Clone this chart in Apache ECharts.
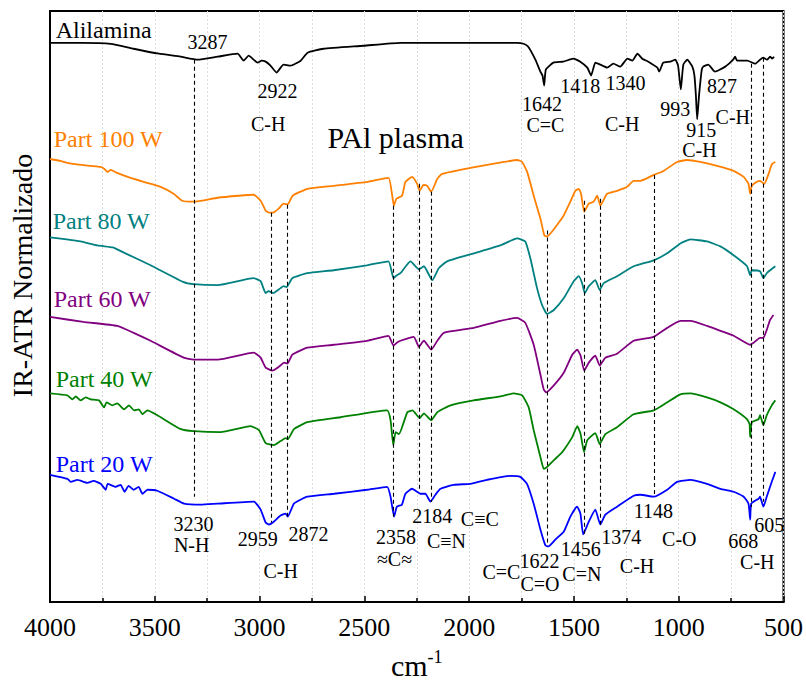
<!DOCTYPE html>
<html>
<head>
<meta charset="utf-8">
<script src="https://cdn.jsdelivr.net/npm/echarts/dist/echarts.min.js"></script>
<style>
  html, body { margin: 0; padding: 0; background: #fff; }
  #chart { width: 806px; height: 685px; }
</style>
</head>
<body>
<div id="chart"></div>
<script>
// FTIR-ATR spectra: allylamine monomer and plasma-polymerised films (stacked, offset)
// each point: [wavenumber cm-1, normalised intensity + offset]
const alilamina = [
  [4000,5.63],[3850,5.63],[3710,5.62],[3601,5.57],[3480,5.52],[3377,5.49],[3296,5.46],[3200,5.49],
  [3105,5.52],[3076,5.45],[3052,5.50],[3009,5.43],[2990,5.45],[2971,5.44],[2948,5.40],[2919,5.33],
  [2886,5.41],[2852,5.40],[2804,5.45],[2771,5.53],[2695,5.57],[2504,5.60],[2328,5.63],[2000,5.63],
  [1770,5.63],[1740,5.62],[1718,5.59],[1684,5.46],[1660,5.34],[1650,5.30],[1642,5.20],[1634,5.36],
  [1598,5.43],[1551,5.44],[1503,5.47],[1470,5.44],[1436,5.38],[1418,5.30],[1398,5.43],[1374,5.41],
  [1341,5.38],[1312,5.42],[1279,5.39],[1245,5.47],[1221,5.45],[1197,5.52],[1174,5.47],[1145,5.44],
  [1102,5.38],[1093,5.34],[1074,5.43],[1040,5.44],[1016,5.46],[1003,5.40],[990,5.16],[978,5.41],
  [959,5.46],[935,5.39],[925,5.30],[918,5.10],[912,4.86],[903,5.10],[890,5.36],[883,5.39],
  [859,5.41],[827,5.34],[778,5.39],[740,5.46],[731,5.49],[721,5.45],[673,5.45],[635,5.42],
  [612,5.46],[597,5.48],[578,5.46],[564,5.49],[554,5.47],[545,5.49]
];
const part100 = [
  [4000,4.46],[3950,4.44],[3917,4.42],[3850,4.40],[3758,4.38],[3740,4.36],[3725,4.33],[3710,4.35],
  [3680,4.32],[3629,4.28],[3553,4.23],[3472,4.18],[3410,4.11],[3369,4.04],[3315,4.03],[3200,4.07],
  [3100,4.09],[3028,4.10],[2995,4.04],[2971,3.94],[2955,3.92],[2935,3.92],[2909,3.96],[2886,4.01],
  [2867,4.00],[2842,4.09],[2771,4.16],[2647,4.19],[2485,4.23],[2385,4.27],[2367,4.09],[2359,3.99],
  [2347,4.06],[2320,4.09],[2304,4.23],[2272,4.28],[2248,4.21],[2236,4.14],[2218,4.20],[2200,4.19],
  [2181,4.13],[2152,4.26],[2129,4.31],[1994,4.37],[1834,4.43],[1771,4.45],[1747,4.43],[1723,4.33],
  [1692,4.09],[1660,3.86],[1641,3.69],[1628,3.68],[1604,3.73],[1565,3.84],[1549,3.89],[1517,4.03],
  [1493,4.14],[1477,4.16],[1466,4.11],[1451,3.93],[1429,4.01],[1406,4.03],[1389,4.09],[1374,3.99],
  [1342,4.11],[1294,4.14],[1246,4.18],[1215,4.24],[1183,4.24],[1119,4.30],[1072,4.34],[1008,4.43],
  [960,4.45],[897,4.43],[817,4.39],[738,4.34],[690,4.28],[667,4.21],[659,4.11],[651,4.19],
  [627,4.23],[612,4.24],[592,4.21],[571,4.31],[555,4.41],[539,4.43]
];
const part80 = [
  [4000,3.67],[3920,3.65],[3854,3.63],[3774,3.59],[3700,3.57],[3679,3.55],[3640,3.51],[3520,3.39],
  [3362,3.22],[3315,3.20],[3200,3.19],[3028,3.26],[2995,3.23],[2971,3.11],[2957,3.13],[2935,3.11],
  [2900,3.16],[2886,3.18],[2871,3.17],[2844,3.26],[2772,3.31],[2647,3.34],[2488,3.39],[2385,3.43],
  [2361,3.26],[2345,3.29],[2328,3.31],[2280,3.43],[2240,3.35],[2216,3.38],[2176,3.24],[2145,3.36],
  [2105,3.43],[1978,3.51],[1851,3.59],[1771,3.66],[1732,3.63],[1708,3.46],[1676,3.16],[1652,2.99],
  [1628,2.90],[1596,2.94],[1548,3.06],[1501,3.23],[1477,3.28],[1461,3.21],[1448,3.11],[1429,3.18],
  [1398,3.24],[1377,3.14],[1358,3.21],[1294,3.28],[1215,3.38],[1119,3.44],[1055,3.51],[992,3.61],
  [944,3.65],[865,3.63],[801,3.58],[738,3.49],[674,3.38],[659,3.29],[651,3.34],[612,3.33],
  [596,3.26],[580,3.31],[564,3.34],[539,3.38]
];
const part60 = [
  [4000,2.87],[3841,2.82],[3679,2.78],[3601,2.71],[3520,2.63],[3362,2.46],[3315,2.44],[3200,2.44],
  [3028,2.51],[2995,2.46],[2971,2.36],[2939,2.33],[2907,2.37],[2883,2.41],[2867,2.40],[2844,2.49],
  [2772,2.56],[2645,2.59],[2488,2.63],[2385,2.68],[2361,2.58],[2345,2.61],[2328,2.63],[2264,2.67],
  [2240,2.57],[2216,2.63],[2181,2.54],[2152,2.63],[2121,2.71],[1978,2.76],[1851,2.83],[1771,2.86],
  [1732,2.81],[1692,2.59],[1660,2.29],[1644,2.14],[1632,2.11],[1596,2.18],[1548,2.31],[1508,2.49],
  [1484,2.54],[1468,2.48],[1451,2.33],[1429,2.41],[1398,2.48],[1377,2.38],[1350,2.46],[1294,2.50],
  [1215,2.63],[1119,2.67],[1055,2.76],[992,2.83],[944,2.83],[865,2.78],[801,2.73],[738,2.68],
  [659,2.59],[643,2.61],[612,2.66],[596,2.66],[580,2.74],[564,2.84],[548,2.89]
];
const part40 = [
  [4000,2.10],[3917,2.08],[3893,2.04],[3877,2.07],[3854,2.03],[3830,2.06],[3806,2.04],[3766,2.03],
  [3742,1.96],[3730,2.01],[3702,1.98],[3679,2.00],[3647,1.94],[3623,1.98],[3599,1.93],[3576,1.94],
  [3559,1.89],[3535,1.93],[3488,1.88],[3376,1.74],[3313,1.72],[3186,1.71],[3043,1.77],[3003,1.73],
  [2971,1.60],[2932,1.58],[2900,1.62],[2876,1.65],[2865,1.64],[2836,1.74],[2772,1.81],[2614,1.86],
  [2391,1.93],[2375,1.83],[2362,1.58],[2351,1.71],[2335,1.69],[2295,1.91],[2270,1.93],[2236,1.85],
  [2216,1.90],[2181,1.83],[2152,1.91],[2089,1.98],[1978,2.03],[1851,2.07],[1787,2.10],[1747,2.08],
  [1716,1.96],[1692,1.73],[1660,1.46],[1644,1.34],[1628,1.36],[1580,1.46],[1560,1.50],[1548,1.53],
  [1508,1.66],[1484,1.77],[1468,1.69],[1452,1.51],[1436,1.63],[1398,1.70],[1377,1.59],[1350,1.69],
  [1294,1.76],[1215,1.89],[1119,1.93],[1055,2.01],[992,2.09],[944,2.10],[865,2.06],[801,2.01],
  [738,1.94],[674,1.84],[662,1.79],[659,1.66],[651,1.81],[619,1.84],[612,1.88],[596,1.78],
  [580,1.88],[556,1.98],[539,2.03]
];
const part20 = [
  [4000,1.28],[3917,1.24],[3901,1.21],[3869,1.23],[3822,1.20],[3792,1.22],[3758,1.19],[3734,1.13],
  [3725,1.19],[3687,1.16],[3663,1.18],[3644,1.11],[3625,1.17],[3601,1.13],[3577,1.16],[3559,1.09],
  [3535,1.13],[3488,1.12],[3408,1.04],[3360,0.99],[3281,0.98],[3201,0.99],[3027,1.01],[2995,0.93],
  [2971,0.80],[2955,0.78],[2931,0.81],[2900,0.87],[2876,0.89],[2865,0.86],[2836,0.99],[2772,1.06],
  [2645,1.09],[2488,1.13],[2391,1.16],[2375,1.06],[2358,0.86],[2345,0.96],[2321,0.98],[2304,1.09],
  [2272,1.14],[2248,1.11],[2233,1.09],[2209,1.09],[2185,1.01],[2161,1.08],[2137,1.14],[2074,1.18],
  [1994,1.19],[1915,1.23],[1804,1.27],[1756,1.26],[1724,1.19],[1692,0.99],[1660,0.73],[1636,0.57],
  [1622,0.56],[1588,0.63],[1548,0.71],[1517,0.86],[1485,0.96],[1469,0.89],[1456,0.68],[1429,0.81],
  [1398,0.93],[1374,0.78],[1350,0.88],[1294,0.96],[1215,1.07],[1183,1.08],[1119,1.06],[1055,1.13],
  [1008,1.21],[944,1.23],[865,1.19],[801,1.14],[738,1.11],[690,1.06],[667,0.99],[659,0.83],
  [654,0.99],[619,1.04],[612,1.06],[596,0.96],[580,1.06],[556,1.21],[539,1.31]
];

// dashed guide lines through the assigned bands: wavenumber, upper and lower end
const guideWn     = [3313, 2946, 2868, 2362, 2238, 2180, 1625, 1451, 1375, 1118, 654, 595];
const guideTop    = [5.46, 3.92, 4.00, 3.99, 4.21, 4.13, 3.74, 4.04, 4.06, 4.30, 5.42, 5.48];
const guideBottom = [1.06, 0.80, 0.86, 0.86, 1.11, 1.01, 0.60, 0.68, 0.78, 1.06, 0.96, 1.01];

// spectrum names and colours
const seriesNames  = ['Alilamina', 'Part 100 W', 'Part 80 W', 'Part 60 W', 'Part 40 W', 'Part 20 W'];
const seriesData   = [alilamina, part100, part80, part60, part40, part20];
const seriesColors = ['#000000', '#ff8000', '#008080', '#800080', '#008000', '#0000ff'];
// where each spectrum's name sits: [wavenumber, intensity]
const nameAnchors  = [[3973,5.76],[3982,4.66],[3987,3.84],[3982,3.05],[3973,2.25],[3973,1.39]];

// band assignments: [text, wavenumber, intensity]
const bandLabels = [
  ['3287',3248,5.64],['2922',2914,5.14],['C-H',2959,4.81],
  ['1642',1652,5.01],['C=C',1636,4.80],['1418',1470,5.19],['1340',1254,5.23],['C-H',1270,4.81],
  ['993',1016,4.96],['915',892,4.75],['C-H',901,4.55],['827',793,5.19],['C-H',742,4.88],
  ['3230',3315,0.79],['N-H',3324,0.57],['2959',3009,0.63],['2872',2766,0.68],['C-H',2899,0.31],
  ['2358',2349,0.65],['\u2248C\u2248',2356,0.43],['2184',2176,0.87],['C\u2261N',2108,0.61],['C\u2261C',1949,0.84],
  ['1622',1664,0.41],['C=C',1846,0.30],['C=O',1662,0.18],['1456',1467,0.53],['C=N',1462,0.28],
  ['1374',1274,0.65],['C-H',1199,0.36],['1148',1121,0.92],['C-O',997,0.63],
  ['668',692,0.61],['605',568,0.78],['C-H',625,0.40]
];
const titleText = ['PAl plasma', 2351, 4.68];

const FONT = 'Liberation Serif';

const chart = echarts.init(document.getElementById('chart'), null, { renderer: 'svg' });

const spectra = seriesData.map((d, i) => ({
  name: seriesNames[i],
  type: 'line',
  data: d,
  showSymbol: false,
  symbol: 'none',
  smooth: 0.15,
  lineStyle: { color: seriesColors[i], width: 1.8 },
  z: 3,
  silent: true
}));

const guides = {
  name: 'guides',
  type: 'line',
  data: [],
  silent: true,
  markLine: {
    silent: true,
    symbol: ['none', 'none'],
    label: { show: false },
    lineStyle: { color: '#000', width: 1.1, type: [4, 3] },
    data: guideWn.map((w, i) => [{ coord: [w, guideTop[i]] }, { coord: [w, guideBottom[i]] }])
  },
  z: 2
};

const hidden = 'rgba(0,0,0,0)';
const textBase = {
  show: true, position: 'inside', verticalAlign: 'middle', formatter: '{b}',
  fontFamily: FONT, opacity: 1, textBorderWidth: 0, textShadowBlur: 0
};

const nameLabels = {
  name: 'names',
  type: 'scatter',
  symbolSize: 1,
  itemStyle: { color: hidden },
  silent: true,
  data: seriesNames.map((n, i) => ({
    name: n,
    value: nameAnchors[i],
    label: { color: seriesColors[i] }
  })),
  label: Object.assign({}, textBase, { align: 'left', fontSize: 24 }),
  labelLayout: { hideOverlap: false },
  z: 5
};

const bandText = {
  name: 'bands',
  type: 'scatter',
  symbolSize: 1,
  itemStyle: { color: hidden },
  silent: true,
  data: bandLabels.map(b => ({ name: b[0], value: [b[1], b[2]] }))
    .concat([{ name: titleText[0], value: [titleText[1], titleText[2]],
               label: { fontSize: 30, lineHeight: 30 } }]),
  label: Object.assign({}, textBase, { align: 'center', fontSize: 20, lineHeight: 16, color: '#000' }),
  labelLayout: { hideOverlap: false },
  z: 5
};

chart.setOption({
  animation: false,
  backgroundColor: '#fff',
  grid: {
    left: 49, right: 21, top: 11, bottom: 79,
    show: true, borderColor: '#000', borderWidth: 2, backgroundColor: 'transparent'
  },
  xAxis: {
    type: 'value',
    inverse: true,
    min: 500, max: 4000, interval: 500,
    name: '{a|cm}{b|-1}',
    nameLocation: 'middle',
    nameGap: 46,
    nameTextStyle: {
      rich: {
        a: { fontFamily: FONT, fontSize: 30, color: '#000' },
        b: { fontFamily: FONT, fontSize: 18, color: '#000', padding: [0, 0, 16, 0] }
      }
    },
    axisLine: { show: true, onZero: false, lineStyle: { color: '#000', width: 2 } },
    axisTick: { show: true, inside: true, length: 6, lineStyle: { color: '#000', width: 1.5 } },
    minorTick: { show: true, splitNumber: 2, length: 4, lineStyle: { color: '#000', width: 1.5 } },
    axisLabel: {
      fontFamily: FONT, fontSize: 26, color: '#000', margin: 12,
      formatter: v => String(v)
    },
    splitLine: { show: true, lineStyle: { color: '#dcdcdc', width: 1, type: [2, 2] } },
    minorSplitLine: { show: true, lineStyle: { color: '#dcdcdc', width: 1, type: [2, 2] } }
  },
  yAxis: {
    type: 'value',
    min: 0, max: 5.95,
    name: 'IR-ATR Normalizado',
    nameLocation: 'middle',
    nameRotate: 90,
    nameGap: 14,
    nameTextStyle: { fontFamily: FONT, fontSize: 28, color: '#000', padding: [0, 0, 0, 62] },
    axisLine: { show: true, onZero: false, lineStyle: { color: '#000', width: 2 } },
    axisTick: { show: false },
    axisLabel: { show: false },
    splitLine: { show: false }
  },
  series: spectra.concat([guides, nameLabels, bandText])
});
</script>
</body>
</html>
